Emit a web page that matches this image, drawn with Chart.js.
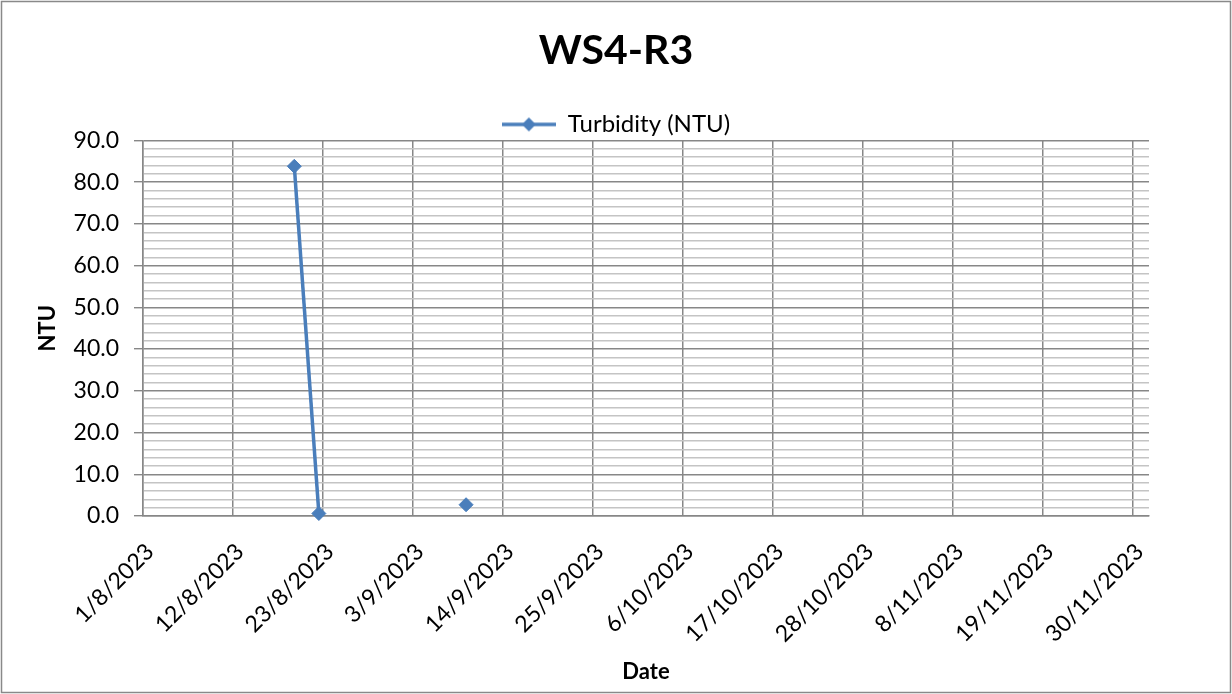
<!DOCTYPE html>
<html>
<head>
<meta charset="utf-8">
<title>WS4-R3</title>
<script src="https://cdn.jsdelivr.net/npm/chart.js@4.4.1/dist/chart.umd.min.js"></script>
<style>
  html, body { margin: 0; padding: 0; background: #fff; }
</style>
</head>
<body>
<canvas id="turbidityChart" width="1232" height="694"></canvas>
<script>
// Sample log for WS4-R3 (blank row keeps the line broken between readings)
const sampleDates = ["2023-08-19", "2023-08-22", "2023-08-30", "2023-09-09"];
const turbidity = [83.8, 0.6, null, 2.7];

// Axis range and tick spacing
const axisStart = "2023-08-01";
const axisEnd = "2023-12-02";
const dateStepDays = 11;
const yMin = 0;
const yMax = 90;
const yMajorStep = 10;
const yMinorStep = 2;

const DAY_MS = 86400000;
const FONT = "Lato, 'Open Sans', sans-serif";
const SERIES_BLUE = "#4a7ebb";
const GRID_MAJOR = "#878787";
const GRID_MINOR = "#c4c4c4";

function dayOffset(dateStr) {
  return (Date.parse(dateStr) - Date.parse(axisStart)) / DAY_MS;
}

function formatDay(offset) {
  const d = new Date(Date.parse(axisStart) + offset * DAY_MS);
  return `${d.getUTCDate()}/${d.getUTCMonth() + 1}/${d.getUTCFullYear()}`;
}

// points sit in the middle of their day, like a spreadsheet date axis
const points = sampleDates.map((date, i) => ({ x: dayOffset(date) + 0.5, y: turbidity[i] }));

// line-with-diamond swatch for the legend
function legendMarker() {
  const c = document.createElement("canvas");
  c.width = 54;
  c.height = 16;
  const g = c.getContext("2d");
  g.strokeStyle = SERIES_BLUE;
  g.lineWidth = 3.5;
  g.beginPath();
  g.moveTo(0, 8);
  g.lineTo(54, 8);
  g.stroke();
  g.fillStyle = SERIES_BLUE;
  g.beginPath();
  g.moveTo(27, 1);
  g.lineTo(34, 8);
  g.lineTo(27, 15);
  g.lineTo(20, 8);
  g.closePath();
  g.fill();
  return c;
}

const chartFrame = {
  id: "chartFrame",
  afterLayout(chart) {
    // sit the legend a little closer to the plot
    if (chart.legend) {
      chart.legend.top += 6;
      chart.legend.bottom += 6;
    }
  },
  afterDraw(chart) {
    const { ctx, width, height } = chart;
    ctx.save();
    ctx.strokeStyle = "#898989";
    ctx.lineWidth = 1.5;
    ctx.strokeRect(1.5, 1.5, width - 3, height - 3);
    ctx.restore();
  },
};

const isMajor = v => Math.abs(v % yMajorStep) < 1e-6;

new Chart(document.getElementById("turbidityChart"), {
  type: "line",
  data: {
    datasets: [
      {
        label: "Turbidity (NTU)",
        data: points,
        borderColor: SERIES_BLUE,
        backgroundColor: SERIES_BLUE,
        borderWidth: 3.5,
        pointStyle: "rectRot",
        pointRadius: 7,
        pointBorderWidth: 1,
        tension: 0,
        spanGaps: false,
        clip: false,
      },
    ],
  },
  options: {
    responsive: false,
    animation: false,
    devicePixelRatio: 1,
    layout: { padding: 0 },
    plugins: {
      title: {
        display: true,
        text: "WS4-R3",
        color: "#000",
        font: { family: FONT, size: 41, weight: "bold" },
        padding: { top: 26, bottom: 23.2 },
      },
      legend: {
        labels: {
          color: "#000",
          font: { family: FONT, size: 24 },
          usePointStyle: true,
          pointStyle: legendMarker(),
          pointStyleWidth: 54,
          padding: 8,
        },
      },
      tooltip: { enabled: false },
    },
    scales: {
      x: {
        type: "linear",
        min: 0,
        max: dayOffset(axisEnd),
        afterFit: scale => { scale.height = 178; },
        ticks: {
          stepSize: dateStepDays,
          includeBounds: false,
          autoSkip: false,
          minRotation: 45,
          maxRotation: 45,
          padding: 22,
          labelOffset: 7,
          color: "#000",
          font: { family: FONT, size: 23 },
          callback: value => formatDay(value),
        },
        grid: {
          color: GRID_MAJOR,
          lineWidth: 1.5,
          drawTicks: false,
        },
        border: { color: GRID_MAJOR, width: 1.5 },
        title: {
          display: true,
          text: "Date",
          color: "#000",
          font: { family: FONT, size: 22, weight: "bold" },
          padding: { top: 0, bottom: 8.8 },
        },
      },
      y: {
        min: yMin,
        max: yMax,
        afterFit: scale => { scale.width = 143; },
        ticks: {
          stepSize: yMinorStep,
          autoSkip: false,
          padding: 15,
          color: "#000",
          font: { family: FONT, size: 23 },
          callback: value => (isMajor(value) ? value.toFixed(1) : ""),
        },
        grid: {
          color: ctx => (ctx.tick && isMajor(ctx.tick.value) ? GRID_MAJOR : GRID_MINOR),
          tickColor: ctx => (ctx.tick && isMajor(ctx.tick.value) ? GRID_MAJOR : "rgba(0,0,0,0)"),
          lineWidth: 1.4,
          tickLength: 9,
        },
        border: { color: GRID_MAJOR, width: 1.5 },
        title: {
          display: true,
          text: "NTU",
          color: "#000",
          font: { family: FONT, size: 22, weight: "bold" },
          padding: { top: 35, bottom: 0 },
        },
      },
      // empty right-hand margin so the plot stops short of the frame
      rightMargin: {
        type: "linear",
        position: "right",
        afterFit: scale => { scale.width = 83; },
        ticks: { display: false },
        grid: { display: false, drawTicks: false },
        border: { display: false },
      },
    },
  },
  plugins: [chartFrame],
});
</script>
</body>
</html>
